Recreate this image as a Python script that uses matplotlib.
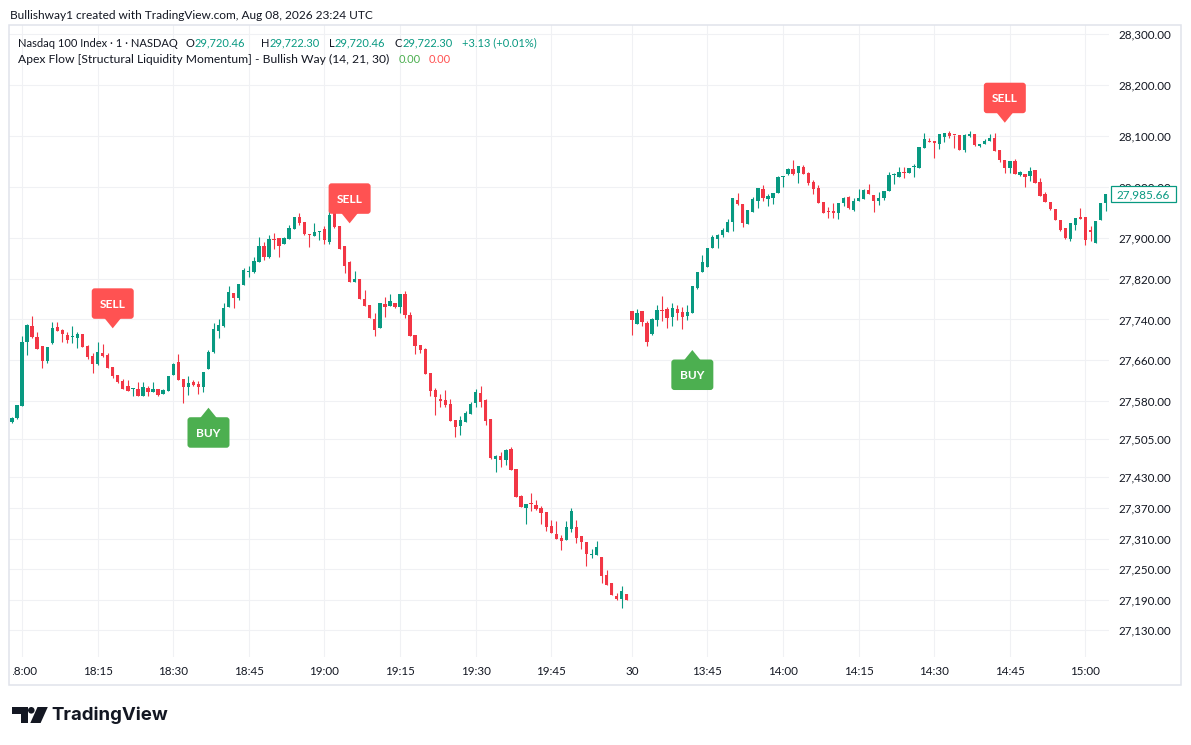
import numpy as np
import matplotlib
matplotlib.use("Agg")
import matplotlib.pyplot as plt
import matplotlib.transforms as mtransforms
from matplotlib.patches import Rectangle, FancyBboxPatch, Polygon, Circle

plt.rcParams['font.family'] = ['Lato', 'DejaVu Sans']

# ---------------- data (1-minute candles) ----------------
opens = [
    27539.3, 27546.0, 27570.7, 27696.3, 27727.2, 27705.6, 27687.9, 27659.0, 27693.1, 27725.2,
    27719.9, 27709.6, 27705.5, 27704.2, 27711.6, 27688.5, 27668.3, 27652.0, 27674.3, 27670.2,
    27646.7, 27631.0, 27619.2, 27609.3, 27602.9, 27603.5, 27590.5, 27606.0, 27598.2, 27603.5,
    27594.0, 27600.2, 27631.0, 27656.5, 27623.1, 27607.4, 27617.2, 27613.3, 27606.8, 27643.3,
    27675.5, 27717.9, 27727.7, 27765.0, 27791.3, 27782.7, 27807.6, 27832.5, 27833.7, 27853.4,
    27884.2, 27862.0, 27897.9, 27899.3, 27888.7, 27897.9, 27918.1, 27940.5, 27931.3, 27907.7,
    27904.4, 27911.1, 27917.0, 27892.0, 27948.4, 27923.4, 27884.2, 27853.4, 27814.1, 27819.4,
    27780.1, 27768.3, 27740.9, 27723.8, 27770.3, 27767.0, 27772.3, 27765.0, 27790.0, 27748.7,
    27709.6, 27689.8, 27681.9, 27634.9, 27601.5, 27583.9, 27581.9, 27574.0, 27542.6, 27531.4,
    27539.3, 27554.4, 27575.4, 27595.6, 27581.9, 27544.6, 27466.1, 27472.5, 27464.1, 27485.7,
    27446.4, 27394.0, 27369.8, 27380.3, 27375.7, 27369.3, 27362.0, 27335.2, 27318.8, 27311.5,
    27307.0, 27328.6, 27332.6, 27314.9, 27303.1, 27278.2, 27277.6, 27274.2, 27238.3, 27222.6,
    27197.7, 27191.2, 27201.0, 27756.6, 27731.6, 27756.6, 27733.0, 27711.4, 27738.9, 27758.5,
    27760.5, 27745.4, 27760.5, 27754.6, 27747.4, 27753.2, 27802.3, 27833.7, 27843.5, 27880.8,
    27897.9, 27905.8, 27912.3, 27931.9, 27974.5, 27966.6, 27928.0, 27951.5, 27973.1, 27996.1,
    27976.4, 27978.4, 27988.8, 28020.2, 28025.5, 28035.3, 28027.5, 28039.2, 28027.5, 28009.8,
    27998.0, 27970.6, 27953.5, 27952.9, 27949.0, 27968.6, 27980.4, 27954.8, 27972.5, 27976.4,
    27994.1, 27984.3, 27972.5, 27978.4, 27992.2, 28023.6, 28020.2, 28029.4, 28027.5, 28039.9,
    28037.9, 28077.2, 28090.3, 28090.3, 28085.0, 28098.2, 28106.0, 28102.7, 28102.1, 28072.6,
    28100.1, 28104.0, 28080.5, 28084.4, 28090.3, 28096.2, 28072.6, 28053.1, 28037.9, 28051.1,
    28024.1, 28025.5, 28022.2, 28033.4, 28010.4, 27986.3, 27971.1, 27956.8, 27935.2, 27919.5,
    27897.9, 27926.0, 27941.1, 27941.1, 27915.6, 27890.1, 27935.2, 27969.2,
]
highs = [
    27549.1, 27573.0, 27707.5, 27731.7, 27747.1, 27716.0, 27688.5, 27686.0, 27735.0, 27735.0,
    27721.0, 27716.0, 27727.2, 27716.0, 27712.0, 27689.0, 27674.9, 27696.1, 27692.2, 27674.9,
    27647.0, 27631.5, 27623.1, 27621.1, 27605.5, 27616.6, 27617.8, 27609.3, 27616.6, 27604.0,
    27602.5, 27629.5, 27654.0, 27672.2, 27623.5, 27628.4, 27621.1, 27619.2, 27637.5, 27680.0,
    27732.5, 27740.3, 27771.7, 27805.7, 27792.0, 27810.0, 27840.4, 27844.9, 27862.0, 27902.4,
    27892.0, 27905.8, 27909.1, 27900.0, 27902.4, 27925.4, 27941.0, 27948.4, 27931.5, 27908.0,
    27928.7, 27913.0, 27924.0, 27956.2, 27953.5, 27924.0, 27885.0, 27854.0, 27835.1, 27820.0,
    27797.8, 27768.5, 27752.1, 27773.0, 27784.6, 27790.0, 27773.0, 27790.5, 27796.4, 27754.6,
    27710.0, 27690.0, 27683.9, 27635.5, 27605.4, 27593.9, 27601.5, 27583.9, 27543.0, 27551.1,
    27560.3, 27577.4, 27604.1, 27609.3, 27583.9, 27545.0, 27473.0, 27479.8, 27485.7, 27490.2,
    27447.0, 27394.5, 27378.0, 27399.9, 27385.6, 27373.8, 27362.5, 27346.4, 27344.4, 27316.3,
    27344.4, 27370.5, 27346.4, 27315.0, 27303.5, 27290.0, 27305.1, 27274.5, 27248.1, 27223.0,
    27203.0, 27217.3, 27201.5, 27757.0, 27760.5, 27757.0, 27736.9, 27742.8, 27768.3, 27786.6,
    27764.4, 27772.3, 27768.3, 27764.4, 27768.3, 27806.0, 27833.5, 27866.5, 27880.5, 27905.8,
    27907.7, 27919.5, 27937.2, 27978.5, 27988.2, 27967.0, 27955.0, 27980.4, 27998.5, 28003.9,
    27986.3, 27988.5, 28022.2, 28022.0, 28037.3, 28053.1, 28041.5, 28043.2, 28029.4, 28013.7,
    28003.9, 27971.0, 27960.2, 27968.6, 27969.0, 27981.0, 27982.3, 27978.4, 27996.1, 27996.1,
    28005.9, 27984.5, 27990.2, 27992.5, 28029.4, 28026.9, 28039.2, 28039.2, 28037.5, 28045.2,
    28079.0, 28106.0, 28096.2, 28090.5, 28104.5, 28106.5, 28109.9, 28103.0, 28102.5, 28104.0,
    28109.9, 28104.5, 28085.0, 28094.2, 28104.0, 28106.0, 28073.0, 28053.5, 28051.5, 28055.0,
    28031.4, 28026.0, 28039.2, 28033.5, 28017.1, 27990.8, 27971.5, 27957.0, 27935.5, 27920.0,
    27929.5, 27940.0, 27959.4, 27941.5, 27923.4, 27933.5, 27969.0, 27987.0,
]
lows = [
    27536.2, 27545.0, 27570.0, 27670.8, 27704.0, 27682.0, 27645.3, 27655.1, 27692.0, 27717.0,
    27694.9, 27693.7, 27694.3, 27684.6, 27686.0, 27663.0, 27635.6, 27651.0, 27667.0, 27645.0,
    27625.7, 27614.7, 27603.0, 27600.0, 27590.5, 27590.0, 27590.0, 27590.5, 27597.0, 27590.5,
    27593.5, 27599.5, 27630.5, 27621.0, 27576.6, 27591.9, 27609.9, 27593.2, 27597.0, 27643.0,
    27675.0, 27703.0, 27725.8, 27764.5, 27763.1, 27778.2, 27807.0, 27823.9, 27831.7, 27853.0,
    27856.7, 27860.6, 27878.3, 27863.2, 27888.0, 27897.5, 27917.5, 27925.4, 27905.8, 27882.8,
    27904.0, 27896.0, 27887.5, 27887.5, 27920.0, 27878.0, 27831.7, 27812.9, 27813.5, 27780.0,
    27766.5, 27743.0, 27708.1, 27723.0, 27745.4, 27766.5, 27762.5, 27753.2, 27743.4, 27707.5,
    27672.2, 27673.5, 27633.0, 27590.5, 27553.0, 27568.7, 27567.6, 27541.0, 27509.8, 27513.7,
    27539.0, 27554.0, 27567.6, 27567.6, 27533.3, 27467.0, 27441.1, 27451.0, 27454.8, 27444.0,
    27391.5, 27372.0, 27338.5, 27364.0, 27365.9, 27338.5, 27324.7, 27321.0, 27308.5, 27287.4,
    27306.5, 27323.3, 27300.5, 27288.8, 27256.0, 27272.3, 27277.0, 27223.2, 27218.0, 27198.5,
    27189.2, 27173.5, 27189.3, 27709.7, 27731.0, 27727.7, 27687.9, 27709.4, 27727.7, 27737.5,
    27723.8, 27727.7, 27739.5, 27721.8, 27739.5, 27752.5, 27800.3, 27833.0, 27843.0, 27880.5,
    27880.2, 27901.8, 27912.0, 27914.2, 27964.7, 27922.1, 27927.5, 27951.0, 27959.4, 27973.1,
    27963.3, 27966.6, 27988.5, 28000.6, 28023.6, 28023.6, 28007.9, 28025.0, 28003.9, 27986.3,
    27968.0, 27948.5, 27939.2, 27939.2, 27937.2, 27963.3, 27956.8, 27952.9, 27972.0, 27976.0,
    27986.0, 27950.9, 27964.7, 27974.5, 27992.0, 28006.5, 28020.0, 28018.3, 28027.0, 28020.2,
    28037.5, 28077.0, 28088.5, 28057.5, 28075.2, 28088.3, 28096.2, 28076.6, 28072.7, 28068.7,
    28098.2, 28080.5, 28078.5, 28084.0, 28090.0, 28070.0, 28048.5, 28027.5, 28027.5, 28025.0,
    28021.0, 28000.6, 28011.8, 28008.0, 27982.5, 27970.5, 27954.3, 27935.0, 27913.6, 27897.9,
    27894.0, 27916.2, 27937.5, 27886.2, 27894.0, 27890.0, 27935.0, 27953.5,
]
closes = [
    27547.2, 27572.1, 27695.8, 27729.1, 27705.0, 27682.6, 27659.0, 27685.3, 27722.7, 27717.9,
    27710.8, 27699.7, 27706.5, 27711.6, 27686.6, 27666.9, 27652.0, 27676.2, 27667.7, 27645.3,
    27629.6, 27617.8, 27603.5, 27600.2, 27604.8, 27590.5, 27607.4, 27598.2, 27603.5, 27591.9,
    27601.9, 27629.0, 27652.6, 27621.7, 27606.8, 27615.3, 27611.9, 27608.0, 27636.8, 27676.2,
    27721.3, 27729.1, 27762.5, 27793.9, 27782.7, 27809.6, 27837.1, 27833.1, 27854.7, 27884.2,
    27862.0, 27897.9, 27896.5, 27884.8, 27899.3, 27918.9, 27940.5, 27928.7, 27907.7, 27905.2,
    27912.3, 27912.3, 27895.4, 27945.0, 27920.9, 27878.9, 27844.9, 27814.1, 27819.4, 27780.8,
    27767.0, 27743.8, 27719.3, 27772.3, 27765.0, 27776.2, 27765.0, 27790.0, 27749.3, 27708.1,
    27688.5, 27680.6, 27633.5, 27600.2, 27588.5, 27580.5, 27572.7, 27541.3, 27529.4, 27542.6,
    27556.4, 27574.0, 27597.0, 27578.5, 27540.1, 27467.4, 27472.5, 27464.1, 27483.7, 27444.5,
    27392.1, 27372.4, 27377.7, 27378.3, 27367.9, 27360.6, 27333.2, 27321.4, 27309.0, 27305.6,
    27332.6, 27364.0, 27311.5, 27303.6, 27279.5, 27280.1, 27293.3, 27236.9, 27218.7, 27199.1,
    27191.2, 27206.9, 27189.8, 27738.9, 27753.2, 27735.0, 27695.7, 27740.9, 27758.5, 27756.6,
    27743.4, 27762.5, 27752.6, 27745.4, 27754.6, 27805.7, 27833.1, 27852.8, 27880.2, 27901.8,
    27905.8, 27915.6, 27931.9, 27977.8, 27966.6, 27929.9, 27954.8, 27976.4, 27998.0, 27979.0,
    27982.3, 27988.2, 28019.6, 28021.6, 28035.3, 28025.5, 28041.2, 28025.5, 28007.9, 27996.1,
    27968.6, 27949.0, 27950.9, 27949.0, 27968.6, 27978.4, 27958.2, 27972.5, 27979.0, 27994.1,
    27986.3, 27972.5, 27978.4, 27992.2, 28023.6, 28024.9, 28029.4, 28028.1, 28037.3, 28041.2,
    28078.5, 28094.2, 28088.9, 28086.9, 28104.0, 28106.0, 28100.1, 28101.5, 28073.2, 28102.1,
    28104.0, 28082.4, 28084.4, 28090.3, 28096.2, 28070.7, 28053.1, 28037.3, 28051.1, 28025.5,
    28029.4, 28020.2, 28031.4, 28008.4, 27982.9, 27971.1, 27956.8, 27935.2, 27915.6, 27900.5,
    27929.3, 27939.7, 27937.8, 27896.0, 27912.3, 27933.3, 27968.6, 27985.66,
]

time_tick_index = [3, 18, 33, 48, 63, 78, 93, 108, 124, 139, 154, 169, 184, 199, 214]
time_tick_labels = ["18:00", "18:15", "18:30", "18:45", "19:00", "19:15", "19:30", "19:45",
                    "30", "13:45", "14:00", "14:15", "14:30", "14:45", "15:00"]
price_ticks = [28300, 28200, 28100, 28000, 27900, 27820, 27740, 27660, 27580, 27505,
               27430, 27370, 27310, 27250, 27190, 27130]

sell_index = [21, 68, 198]
sell_price = [27722.6, 27928.7, 28126.2]
buy_index = [40, 136]
buy_price = [27566.7, 27680.0]
last_price = 27985.66

header_text = "Bullishway1 created with TradingView.com, Aug 08, 2026 23:24 UTC"
symbol_text = "Nasdaq 100 Index \u00b7 1 \u00b7 NASDAQ"
ohlc_letters = ["O", "H", "L", "C"]
ohlc_values = ["29,720.46", "29,722.30", "29,720.46", "29,722.30"]
change_text = "+3.13 (+0.01%)"
indicator_text = "Apex Flow [Structural Liquidity Momentum] - Bullish Way (14, 21, 30)"
indicator_values = ["0.00", "0.00"]

# ---------------- style ----------------
UP = '#089981'
DOWN = '#F23645'
SELL_C = '#FF5252'
BUY_C = '#4CAF50'
TXT = '#131722'
GRID = '#F0F1F4'
FRAME = '#E0E3EB'

W, H, DPI = 1191, 745, 100
fig = plt.figure(figsize=(W / DPI, H / DPI), dpi=DPI)
fig.patch.set_facecolor('white')
# pixel transform (x right, y down) in figure pixels
PX = mtransforms.Affine2D().scale(1.0 / DPI, -1.0 / DPI).translate(0, H / DPI) + fig.dpi_scale_trans
renderer = fig.canvas.get_renderer()


def width_px(t):
    return t.get_window_extent(renderer).width


def fit(t, target):
    w = width_px(t)
    if w > 0:
        t.set_fontsize(t.get_fontsize() * target / w)
    return t.get_fontsize()


L, R, T, B = 8.5, 1109.0, 25.0, 657.0
ax = fig.add_axes([L / W, 1 - B / H, (R - L) / W, (B - T) / H])
ax.set_facecolor('white')
for s in ax.spines.values():
    s.set_visible(False)

XLIM = (0.32, 218.67)
YLIM = (27077.4, 28318.0)

o = np.array(opens); hh = np.array(highs); ll = np.array(lows); c = np.array(closes)
x = np.arange(1, len(o) + 1)
col = np.where(c >= o, UP, DOWN)
ax.vlines(x, ll, hh, colors=col, linewidth=0.8, zorder=3)
body_lo = np.minimum(o, c)
body_h = np.maximum(np.abs(c - o), 1.7)
ax.bar(x, body_h, bottom=body_lo, width=0.66, color=col, linewidth=0, zorder=4)

ax.set_xlim(*XLIM)
ax.set_ylim(*YLIM)

ax.yaxis.tick_right()
ax.set_yticks(price_ticks, [f"{v:,.2f}" for v in price_ticks])
ax.set_xticks(time_tick_index, time_tick_labels)
ax.tick_params(axis='both', length=0, labelsize=8.4, labelcolor=TXT)
ax.tick_params(axis='y', pad=6.9)
ax.tick_params(axis='x', pad=6.2)
ax.grid(True, color=GRID, linewidth=0.8, zorder=0)
ax.set_axisbelow(True)


def anchor(xd, yd):
    return mtransforms.Affine2D().scale(1, 1) + mtransforms.ScaledTranslation(xd, yd, ax.transData)


def signal(xd, yd, text, color, above):
    tr = anchor(xd, yd)
    bw, bh, gap = 42.0, 30.5, 9.5
    if above:
        y0 = gap
        tri = [(-8.5, gap + 1), (8.5, gap + 1), (0, 0)]
        ty = gap + bh / 2
    else:
        y0 = -gap - bh
        tri = [(-8.5, -gap - 1), (8.5, -gap - 1), (0, 0)]
        ty = -gap - bh / 2
    ax.add_patch(FancyBboxPatch((-bw / 2, y0), bw, bh,
                                boxstyle="round,pad=0,rounding_size=3",
                                fc=color, ec='none', transform=tr, zorder=6, clip_on=False))
    ax.add_patch(Polygon(tri, closed=True, fc=color, ec='none', transform=tr, zorder=6, clip_on=False))
    ax.text(0, ty, text, transform=tr, ha='center', va='center_baseline', color='white',
            fontsize=8.6, fontweight='bold', zorder=7)


for i, p in zip(sell_index, sell_price):
    signal(i, p, "SELL", SELL_C, True)
for i, p in zip(buy_index, buy_price):
    signal(i, p, "BUY", BUY_C, False)

ax.set_xlim(*XLIM)
ax.set_ylim(*YLIM)

# current price label on the price scale
tr_last = anchor(XLIM[1], last_price)
fig.add_artist(Rectangle((1.7, -8.0), 65.0, 16.0, transform=tr_last, fc='white', ec=UP,
                         lw=0.9, zorder=5))
fig.text(34.2, 0.0, f"{last_price:,.2f}", transform=tr_last, ha='center', va='center_baseline',
         color=UP, fontsize=8.5, zorder=6)

# cover the clipped part of the first time label and draw the frame
fig.add_artist(Rectangle((0, 657.5), 13.0, 26.5, transform=PX, fc='white', ec='none', zorder=3))
fig.add_artist(Rectangle((8.5, 25.0), 1172.0, 659.5, transform=PX, fill=False, ec=FRAME,
                         lw=1.1, zorder=4))

# header and legend
hdr = fig.text(10.3, 19.3, header_text, transform=PX, fontsize=9.0, color=TXT, va='baseline')
fit(hdr, 365.0)
sym = fig.text(18.4, 46.7, symbol_text, transform=PX, fontsize=8.6, color=TXT, va='baseline')
fs = fit(sym, 158.0)
letter_x = [185.0, 260.5, 328.7, 394.6]
for lx, let, val in zip(letter_x, ohlc_letters, ohlc_values):
    lt = fig.text(lx, 46.7, let, transform=PX, fontsize=fs, color=TXT, va='baseline')
    fig.text(lx + width_px(lt) + 0.6, 46.7, val, transform=PX, fontsize=fs, color=UP, va='baseline')
fig.text(461.7, 46.7, change_text, transform=PX, fontsize=fs, color=UP, va='baseline')
ind = fig.text(18.4, 63.3, indicator_text, transform=PX, fontsize=8.6, color=TXT, va='baseline')
fit(ind, 372.0)
fig.text(398.5, 63.3, indicator_values[0], transform=PX, fontsize=fs, color=BUY_C, va='baseline')
fig.text(429.0, 63.3, indicator_values[1], transform=PX, fontsize=fs, color=SELL_C, va='baseline')

# TradingView logo
fig.add_artist(Polygon([(12, 707), (28, 707), (28, 723), (21, 723), (21, 713.5), (12, 713.5)],
                       closed=True, transform=PX, fc='#131722', ec='none', zorder=5))
fig.add_artist(Circle((31.3, 710.3), 3.3, transform=PX, fc='#131722', ec='none', zorder=5))
fig.add_artist(Polygon([(37.5, 707), (47.8, 707), (40.6, 723), (30.3, 723)],
                       closed=True, transform=PX, fc='#131722', ec='none', zorder=5))
logo = fig.text(51.0, 720.5, "TradingView", transform=PX, fontsize=14, fontweight='bold',
                color='#131722', va='baseline', family=['Inter', 'Lato', 'DejaVu Sans'])
fit(logo, 117.5)

fig.savefig("out.png", dpi=DPI, facecolor='white')
